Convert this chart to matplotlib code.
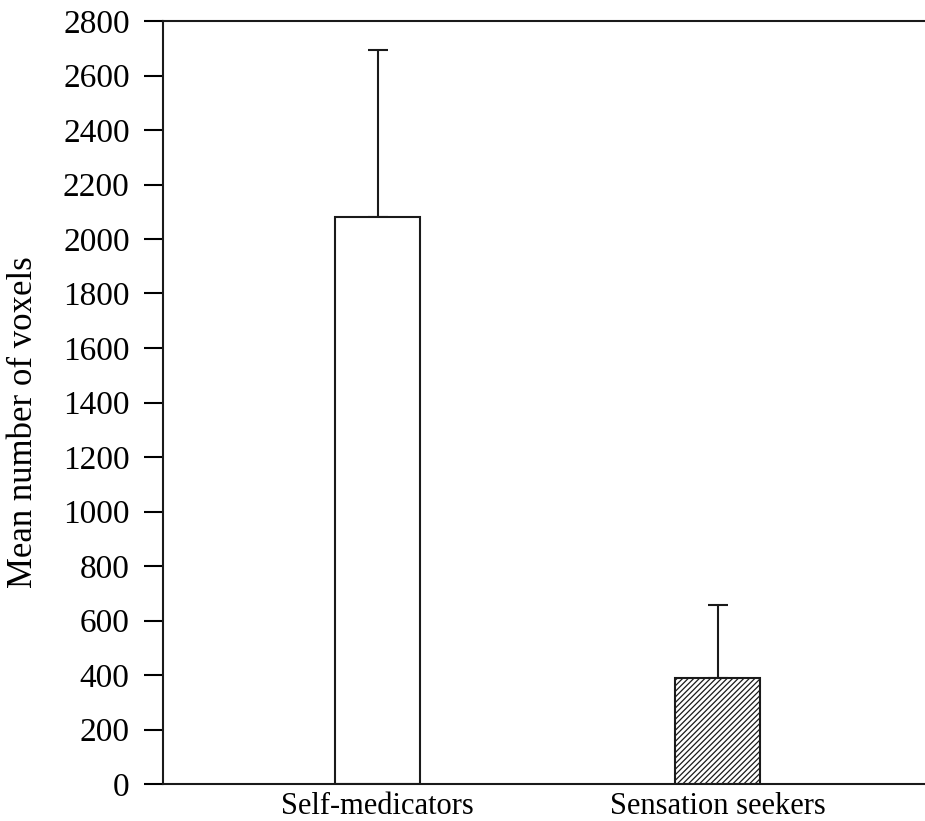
import numpy as np
import matplotlib
matplotlib.use('Agg')
import matplotlib.pyplot as plt

# Dados
grupos = ['Self-medicators', 'Sensation seekers']
medias = [2080, 388]
erros = [612, 268]
hachuras = ['', '//////']

plt.rcParams['font.family'] = ['Liberation Serif', 'DejaVu Serif']
plt.rcParams['hatch.linewidth'] = 0.9

fig = plt.figure(figsize=(9.25, 8.21), dpi=100)
ax = fig.add_axes([163/925, 37/821, 762/925, 763/821])

x = np.arange(len(grupos))
for i in range(len(grupos)):
    ax.bar(x[i], medias[i], width=0.25, color='white', edgecolor='#1a1a1a',
           linewidth=1.5, hatch=hachuras[i], zorder=2)
    ax.errorbar(x[i], medias[i], yerr=[[0], [erros[i]]], fmt='none',
                ecolor='#1a1a1a', elinewidth=1.5, capsize=7, capthick=1.5, zorder=1)

ax.set_xlim(-0.631, 1.61)
ax.set_ylim(0, 2800)
ax.set_yticks(np.arange(0, 2801, 200))
ax.set_xticks(x)
ax.set_xticklabels(grupos, fontsize=22)
ax.tick_params(axis='x', length=0, pad=6)
ax.tick_params(axis='y', direction='out', length=14, width=1.5, labelsize=24, pad=10)
ax.set_ylabel('Mean number of voxels', fontsize=25)
ax.yaxis.set_label_coords(-0.162, 0.4745)

for s in ['left', 'bottom', 'top']:
    ax.spines[s].set_linewidth(1.5)
    ax.spines[s].set_color('#1a1a1a')
ax.spines['right'].set_visible(False)

plt.savefig('out.png', dpi=100)
